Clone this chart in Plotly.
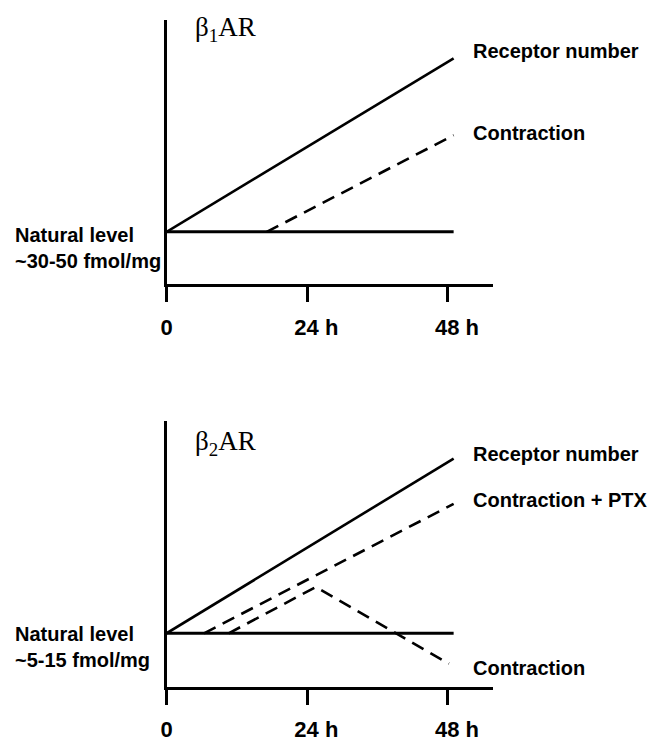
import plotly.graph_objects as go

# ---- data (relative receptor level; 1.0 = natural level) ----
hours_ticks = [0, 24, 48]
tick_labels = ["0", "\u00a0\u00a0\u00a024 h", "\u00a0\u00a0\u00a048 h"]

b1_span_x = [0, 49]
b1_receptor_y = [1.0, 4.32]
b1_natural_y = [1.0, 1.0]
b1_contraction_x = [17.1, 49]
b1_contraction_y = [1.0, 2.85]

b2_span_x = [0, 49]
b2_receptor_y = [1.0, 4.28]
b2_natural_y = [1.0, 1.0]
b2_ptx_x = [6.4, 49]
b2_ptx_y = [1.0, 3.43]
b2_contraction_x = [10.6, 25.5, 48.2]
b2_contraction_y = [1.0, 1.87, 0.43]

W, H = 653, 742
BLACK = "#000000"
SANS = "Liberation Sans, Arial, Helvetica, sans-serif"
SERIF = "Liberation Serif, Times New Roman, serif"
LW = 2.6
DASH = "13px,8px"


def py(px):
    """pixel row (from top) -> paper y"""
    return 1 - px / H


def px_x(px):
    return px / W


fig = go.Figure()


def add_line(x, y, xa, ya, dash="solid", width=LW):
    fig.add_trace(go.Scatter(x=x, y=y, mode="lines", xaxis=xa, yaxis=ya,
                             line=dict(color=BLACK, width=width, dash=dash),
                             hoverinfo="skip", showlegend=False))


# beta1 panel
add_line(b1_span_x, b1_natural_y, "x", "y", width=3)
add_line(b1_span_x, b1_receptor_y, "x", "y")
add_line(b1_contraction_x, b1_contraction_y, "x", "y", dash=DASH)

# beta2 panel
add_line(b2_span_x, b2_natural_y, "x2", "y2", width=3)
add_line(b2_span_x, b2_receptor_y, "x2", "y2")
add_line(b2_ptx_x, b2_ptx_y, "x2", "y2", dash=DASH)
add_line(b2_contraction_x, b2_contraction_y, "x2", "y2", dash=DASH)

xdom = [px_x(162), px_x(492)]
xaxis_common = dict(
    range=[0, 55.8], domain=xdom, showline=True, linecolor=BLACK, linewidth=3,
    ticks="outside", ticklen=15, tickwidth=3, tickcolor=BLACK,
    tickmode="array", tickvals=hours_ticks, ticktext=tick_labels,
    tickfont=dict(family=SANS, size=22, color=BLACK, weight="bold"),
    ticklabelstandoff=6,
    showgrid=False, zeroline=False, fixedrange=True,
)
yaxis_common = dict(
    showline=True, linecolor=BLACK, linewidth=3, ticks="", showticklabels=False,
    showgrid=False, zeroline=False, fixedrange=True,
)

fig.update_layout(
    width=W, height=H,
    margin=dict(l=0, r=0, t=0, b=0),
    paper_bgcolor="white", plot_bgcolor="white",
    xaxis=dict(xaxis_common, anchor="y"),
    yaxis=dict(yaxis_common, range=[0, 5.06], domain=[py(288), py(20)], anchor="x"),
    xaxis2=dict(xaxis_common, anchor="y2"),
    yaxis2=dict(yaxis_common, range=[0, 4.98], domain=[py(696), py(427)], anchor="x2"),
)

annotations = []


def label(text, x_px, y_px, family=SANS, size=20, bold=True):
    annotations.append(dict(
        text=text, x=px_x(x_px), y=py(y_px), xref="paper", yref="paper",
        xanchor="left", yanchor="middle", align="left", showarrow=False,
        font=dict(family=family, size=size, color=BLACK,
                  weight="bold" if bold else "normal"),
    ))


# panel titles
label("\u03b2<sub>1</sub>AR", 189, 29, family=SERIF, size=27, bold=False)
label("\u03b2<sub>2</sub>AR", 189, 449, family=SERIF, size=27, bold=False)

# series labels
label("Receptor number", 469, 52)
label("Contraction", 469, 135)
label("Receptor number", 469, 460)
label("Contraction + PTX", 469, 507)
label("Contraction", 469, 677)

# natural level notes
label("Natural level<br>~30-50 fmol/mg", 7, 251)
label("Natural level<br>~5-15 fmol/mg", 7, 656)

fig.update_layout(annotations=annotations)

fig.write_html("out.html")
